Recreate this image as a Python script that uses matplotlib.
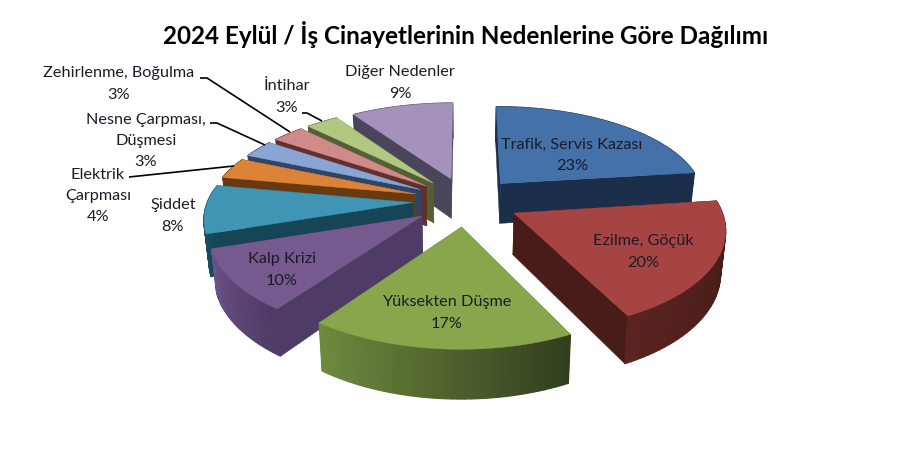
import numpy as np
import matplotlib
matplotlib.use("Agg")
import matplotlib.pyplot as plt
from matplotlib.colors import to_rgb

plt.rcParams['font.family'] = ['Lato', 'DejaVu Sans']

# slices, clockwise from 12 o'clock (labels show them rounded)
causes = ["Trafik, Servis Kazası", "Ezilme, Göçük", "Yüksekten Düşme", "Kalp Krizi", "Şiddet",
          "Elektrik\nÇarpması", "Nesne Çarpması,\nDüşmesi", "Zehirlenme, Boğulma", "İntihar", "Diğer Nedenler"]
shares = [23, 19.6, 17.4, 10, 8, 3.6, 3, 3, 3, 9.4]

top_colors = ["#4571a9", "#a64444", "#89a64d", "#75598f", "#3f95b3", "#dc8337", "#8aa5d4", "#cf8b89", "#b2c881", "#a492bc"]
wall_colors = ["#1b2f4b", "#481d19", "#4f6130", "#4e3b66", "#164656", "#693a10", "#2d4568", "#632f2d", "#536036", "#4a4558"]
rim_start = ["#1b2f4b", "#3f1814", "#323e1e", "#4e3a66", "#17505f", "#693a10", "#2d4568", "#632f2d", "#536036", "#4a4558"]
rim_end = ["#1b2f4b", "#5a2320", "#6f8a3e", "#6b5288", "#164656", "#693a10", "#2d4568", "#632f2d", "#536036", "#4a4558"]

# screen position of each label (centre), pixels
label_xy = [(572, 155), (643, 252), (447, 313), (282, 270), (173, 216),
            (98, 196), (146, 141), (119, 84), (287, 97), (400, 83)]

# leader lines, pixels
leaders = [([200, 207, 290], [78, 78, 132]),
           ([210, 217, 265], [123, 123, 145]),
           ([129, 234], [177, 166]),
           ([302, 307, 322], [113, 113, 121])]

# projection of the tilted pie
CX, CY = 466, 201
A, B, K = 205, 97, 0.14
EXPLODE = 0.26
THICK = 41
PAINT_ORDER = [9, 8, 7, 6, 5, 4, 0, 1, 3, 2]


def project(x, d):
    s = 1 / (1 - K * d)
    squash = np.where(d < 0, 0.95, 1.0)
    return CX + A * x * s, CY + B * d * s * squash, THICK * s


def blend(c1, c2, t):
    a, b = np.array(to_rgb(c1)), np.array(to_rgb(c2))
    return tuple(a + (b - a) * t)


fig = plt.figure(figsize=(9.18, 4.62), dpi=100)
ax = fig.add_axes([0, 0, 1, 1])
ax.set_xlim(0, 918)
ax.set_ylim(462, 0)
ax.axis("off")

edges = np.radians(np.cumsum([0] + shares) * 3.6)

for z, i in enumerate(PAINT_ORDER):
    th = np.linspace(edges[i], edges[i + 1], 40)
    mid = (edges[i] + edges[i + 1]) / 2
    ox, od = EXPLODE * np.sin(mid), -EXPLODE * np.cos(mid)
    sx, sy, h = project(ox + np.sin(th), od - np.cos(th))
    bx = CX + (sx - CX) * 0.98
    by = sy + h
    ax0, ay0, ah = project(ox, od)
    abx, aby = CX + (ax0 - CX) * 0.98, ay0 + ah

    # radial walls
    for j in (0, -1):
        ax.fill([ax0, sx[j], bx[j], abx], [ay0, sy[j], by[j], aby],
                color=wall_colors[i], lw=0.3, zorder=z + 1)
    # outer wall, shaded along the arc
    for j in range(len(th) - 1):
        ax.fill([sx[j], sx[j + 1], bx[j + 1], bx[j]], [sy[j], sy[j + 1], by[j + 1], by[j]],
                color=blend(rim_start[i], rim_end[i], j / (len(th) - 2)), lw=0.9, zorder=z + 1)
    # top face
    ax.fill(np.r_[ax0, sx], np.r_[ay0, sy], color=top_colors[i], lw=0.3, zorder=z + 1)

for lx, ly in leaders:
    ax.plot(lx, ly, color="black", lw=1.2, zorder=20, solid_capstyle="butt")

for name, val, (lx, ly) in zip(causes, shares, label_xy):
    ax.text(lx, ly, f"{name}\n{round(val)}%", ha="center", va="center", fontsize=11.7,
            color="#1c1c28", linespacing=1.65, zorder=30)

ax.text(466, 35, "2024 Eylül / İş Cinayetlerinin Nedenlerine Göre Dağılımı", ha="center", va="center",
        fontsize=17.5, fontweight="bold", color="black", zorder=30)

fig.savefig("out.png", dpi=100)
